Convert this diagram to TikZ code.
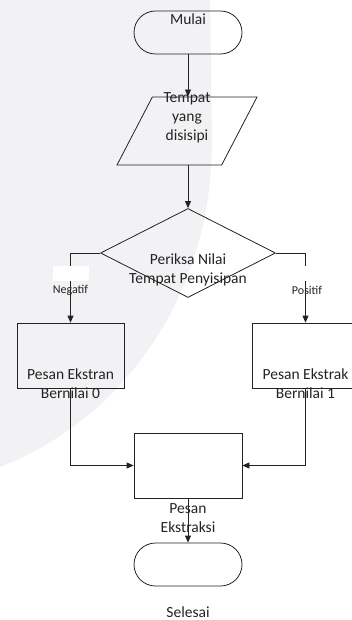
\documentclass[tikz,border=0pt]{standalone}
\usepackage{fontspec}
\setmainfont{Carlito}
\usepackage{xcolor}
\usepackage{tikz}
\usetikzlibrary{positioning,shapes.geometric,shapes.misc,arrows.meta}
\definecolor{bgwash}{RGB}{242,242,244}
\definecolor{ink}{RGB}{35,35,35}

\begin{document}
\begin{tikzpicture}[
    x=1pt, y=-1pt,
    >={Triangle[length=7pt,width=6pt]},
    font=\fontsize{15.5}{19}\selectfont,
    term/.style={
        draw=ink,
        rounded rectangle,
        line width=0.8pt,
        minimum width=108pt,
        minimum height=43pt,
        inner sep=0pt
    },
    io/.style={
        draw=ink,
        trapezium,
        trapezium left angle=63,
        trapezium right angle=117,
        trapezium stretches=true,
        line width=0.8pt,
        minimum width=140pt,
        minimum height=68pt,
        inner sep=2pt
    },
    cond/.style={
        draw=ink,
        diamond,
        line width=0.8pt,
        minimum width=175pt,
        minimum height=89pt,
        inner sep=0pt
    },
    proc/.style={
        draw=ink,
        line width=0.8pt,
        minimum width=107pt,
        minimum height=65pt,
        inner sep=0pt
    },
    txt/.style={text=ink, align=center},
    tag/.style={text=ink, font=\fontsize{12}{14}\selectfont},
    cover/.style={fill=white, minimum width=36pt, minimum height=15pt, inner sep=0pt},
    arr/.style={->, draw=ink, line width=0.8pt}
]
\useasboundingbox (0,0) rectangle (351,620);

% faint wash behind the chart
\fill[bgwash] (0,0) -- (210,0) -- (212,140) .. controls (212,300) and (120,420) .. (0,467) -- cycle;

% main column
\node[term, label={[txt,yshift=13.5pt]center:Mulai}] (mulai) at (188,32.5) {};
\node[io, label={[txt,yshift=13pt]center:Tempat\\yang\\disisipi}] (tempat) at (187,131) {};
\node[cond, label={[txt,yshift=-17pt]center:Periksa Nilai\\Tempat Penyisipan}] (cek) at (188,253) {};

% both branches
\node[proc, label={[txt,yshift=-28.5pt]center:Pesan Ekstran\\Bernilai 0}] (nol) at (70.5,355.5) {};
\node[proc, label={[txt,yshift=-28.5pt]center:Pesan Ekstrak\\Bernilai 1}] (satu) at (305.5,355.5) {};

% join and end
\node[proc, minimum width=108pt, label={[txt,yshift=-53pt]center:Pesan\\Ekstraksi}] (hasil) at (188,465.5) {};
\node[term, label={[txt,inner sep=0pt,yshift=-48pt]center:Selesai}] (selesai) at (188,564.5) {};

\draw[arr] (mulai.south) -- (mulai.south |- tempat.north);
\draw[arr] (tempat.south -| cek.north) -- (cek.north);
\draw[arr] (cek.west) -| (nol.north);
\draw[arr] (cek.east) -| (satu.north);
\draw[arr] (nol.south) |- (hasil.west);
\draw[arr] (satu.south) |- (hasil.east);
\draw[arr] (hasil.south) -- (selesai.north);

% branch labels
\node[cover] (negtutup) at (71,273.5) {};
\node[cover] (postutup) at (305.5,273.5) {};
\node[tag] (negatif) at (70.5,290) {Negatif};
\node[tag] (positif) at (307,290) {Positif};

\end{tikzpicture}
\end{document}
